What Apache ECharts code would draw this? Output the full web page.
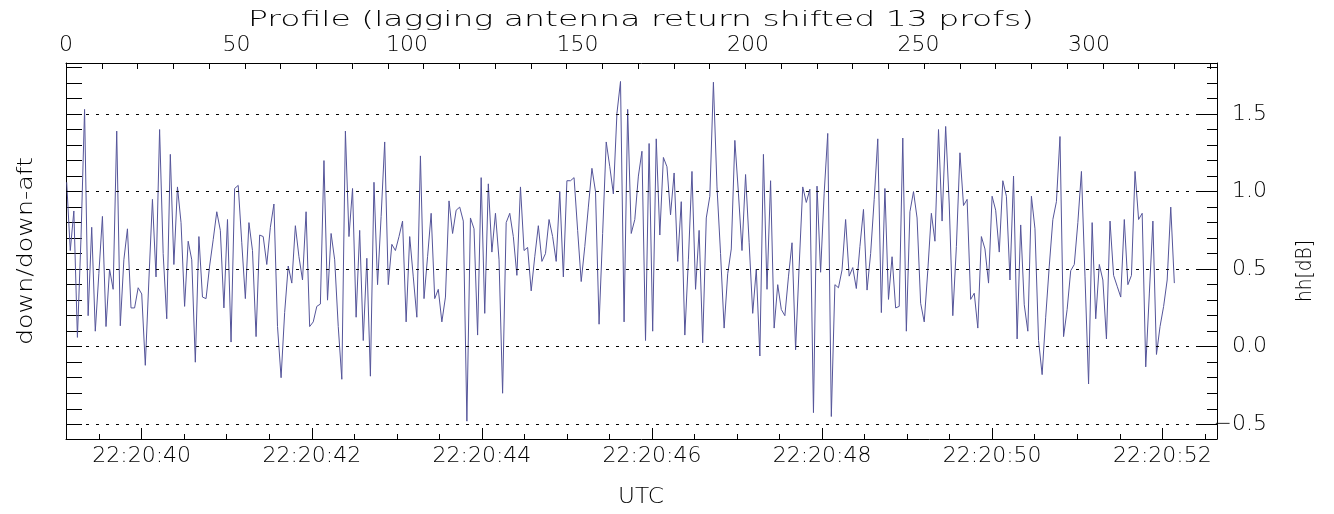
<!DOCTYPE html>
<html><head><meta charset="utf-8">
<script src="https://cdn.jsdelivr.net/npm/echarts@6/dist/echarts.min.js"></script>
<style>html,body{margin:0;padding:0;background:#fff}#c{width:1334px;height:514px}</style>
</head><body><div id="c"></div>
<script>
// hh [dB] values, one per sample (left to right)
const hhValues = [
 1.06,0.62,0.875,0.06,0.70,1.53,0.20,0.77,0.10,0.47,0.84,0.13,0.50,0.37,1.39,0.135,0.56,0.76,0.25,0.25,
 0.38,0.34,-0.12,0.43,0.95,0.45,1.40,0.60,0.18,1.24,0.53,1.03,0.80,0.26,0.68,0.56,-0.10,0.71,0.32,0.31,
 0.52,0.69,0.87,0.75,0.25,0.82,0.03,1.02,1.04,0.67,0.31,0.80,0.62,0.065,0.72,0.71,0.53,0.77,0.92,0.13,
 -0.20,0.22,0.52,0.41,0.78,0.58,0.43,0.87,0.13,0.16,0.26,0.275,1.20,0.30,0.73,0.56,0.13,-0.21,1.39,0.71,
 1.02,0.19,0.75,0.04,0.57,-0.19,1.06,0.40,0.84,1.32,0.40,0.66,0.62,0.71,0.81,0.16,0.71,0.45,0.19,1.23,
 0.31,0.58,0.86,0.31,0.37,0.16,0.32,0.94,0.73,0.88,0.90,0.81,-0.48,0.83,0.76,0.075,1.09,0.215,1.05,0.61,
 0.86,0.56,-0.30,0.80,0.86,0.71,0.46,1.03,0.62,0.64,0.36,0.58,0.78,0.55,0.60,0.82,0.71,0.55,1.00,0.45,
 1.07,1.07,1.09,0.75,0.42,0.645,0.90,1.15,1.00,0.145,0.73,1.32,1.16,0.985,1.505,1.71,0.16,1.53,0.73,0.82,
 1.10,1.26,0.04,1.31,0.10,1.34,0.72,1.22,1.16,0.85,1.12,0.55,0.935,0.075,0.56,1.13,0.37,0.75,0.025,0.83,
 0.97,1.705,1.03,0.60,0.12,0.47,0.63,1.33,0.99,0.62,1.11,0.67,0.215,0.50,-0.06,1.24,0.37,1.07,0.12,0.40,
 0.24,0.20,0.45,0.67,-0.02,0.52,1.03,0.93,1.015,-0.425,1.035,0.48,0.99,1.375,-0.45,0.40,0.38,0.495,0.82,0.455,
 0.51,0.375,0.645,0.885,0.365,0.60,0.95,1.34,0.22,1.02,0.305,0.58,0.25,0.26,1.345,0.10,0.87,1.00,0.83,0.28,
 0.16,0.49,0.86,0.68,1.40,0.81,1.42,0.92,0.20,0.645,1.25,0.91,0.95,0.305,0.345,0.12,0.71,0.63,0.41,0.97,
 0.88,0.61,1.07,0.97,0.43,1.10,0.05,0.785,0.27,0.10,0.97,0.76,0.04,-0.18,0.19,0.52,0.82,0.935,1.355,0.065,
 0.24,0.49,0.53,0.80,1.13,0.45,-0.24,0.80,0.18,0.53,0.43,0.05,0.81,0.46,0.39,0.32,0.82,0.40,0.46,1.13,
 0.82,0.86,-0.13,0.34,0.81,-0.05,0.13,0.26,0.43,0.90,0.41
];
// tick labels / tick positions
const timeLabelSeconds = [40, 42, 44, 46, 48, 50, 52];           // 22:20:SS
const timeMinorTicks = [39.5,40,40.5,41,41.5,42,42.5,43,43.5,44,44.5,45,45.5,46,46.5,47,47.5,48,48.5,49,49.5,50,50.5,51,51.5,52,52.5];
const profileLabels = [0, 50, 100, 150, 200, 250, 300];
const hhLabelValues = [-0.5, 0.0, 0.5, 1.0, 1.5];
const fineTicks = [-0.5,-0.4,-0.3,-0.2,-0.1,0,0.1,0.2,0.3,0.4,0.5,0.6,0.7,0.8,0.9,1.0,1.1,1.2,1.3,1.4,1.5,1.6,1.7,1.8];
const topTickMarks = [0,1,2,3,4,5,6,7,8,9,10,11,12,13,14,15,16,17,18,19,20,21,22,23,24,25,26,27,28,29,30,31,32];

// layout
const G = {left: 66, right: 117, top: 63, bottom: 75};
const PLOT_W = 1334 - G.left - G.right;
const PX_PER_SEC = 85.05, SEC_AT_40 = 141.7;
const T_MIN = 40 - (SEC_AT_40 - G.left) / PX_PER_SEC;
const T_MAX = T_MIN + PLOT_W / PX_PER_SEC;
const PX_PER_PROF = 3.41;
const P_MAX = PLOT_W / PX_PER_PROF;
const TOP_TICK_PX = 35.75;
const SAMPLE_PX = 3.573, FIRST_SAMPLE_PX = 66.7;
const IDX_MIN = -(FIRST_SAMPLE_PX - G.left) / SAMPLE_PX;
const IDX_MAX = IDX_MIN + PLOT_W / SAMPLE_PX;
const Y_MIN = -0.595, Y_MAX = 1.829;

const FONT = '"DejaVu Sans ExtraLight", "DejaVu Sans"';
const FW = 200;
const TXT = '#000';
const FS = 22;

function fitText(text, width, size) {
  const c = document.createElement('canvas').getContext('2d');
  c.font = FW + ' ' + size + 'px ' + FONT;
  return width / c.measureText(text).width;
}

const chart = echarts.init(document.getElementById('c'), null, {renderer: 'canvas'});
const blackLine = {lineStyle: {color: '#000', width: 1}};
const lbl = {fontSize: FS, fontFamily: FONT, fontWeight: FW, color: TXT};

function titleText(text, x, y, width, rot) {
  return {
    type: 'text', x: x, y: y, rotation: rot || 0,
    scaleX: fitText(text, width, FS), scaleY: 1,
    style: {text: text, font: FW + ' ' + FS + 'px ' + FONT, fill: TXT, align: 'center', verticalAlign: 'middle'}
  };
}

chart.setOption({
  animation: false,
  backgroundColor: '#fff',
  grid: {left: G.left, right: G.right, top: G.top, bottom: G.bottom, containLabel: false, outerBoundsMode: 'none'},
  xAxis: [
    {type: 'value', position: 'bottom', min: T_MIN, max: T_MAX,
     axisLine: {show: true, onZero: false, ...blackLine},
     axisTick: {show: true, inside: true, length: 11, customValues: timeLabelSeconds, ...blackLine},
     axisLabel: {show: true, customValues: timeLabelSeconds, ...lbl, margin: 6,
       formatter: v => '22:20:' + String(Math.round(v)).padStart(2, '0')},
     splitLine: {show: false}},
    {type: 'value', position: 'bottom', min: T_MIN, max: T_MAX,
     axisLine: {show: false, onZero: false},
     axisTick: {show: true, inside: true, length: 5, customValues: timeMinorTicks, ...blackLine},
     axisLabel: {show: false}, splitLine: {show: false}},
    {type: 'value', position: 'top', min: 0, max: P_MAX,
     axisLine: {show: true, onZero: false, ...blackLine},
     axisTick: {show: false},
     axisLabel: {show: true, customValues: profileLabels, ...lbl, margin: 7},
     splitLine: {show: false}},
    {type: 'value', position: 'top', min: 0, max: PLOT_W / TOP_TICK_PX,
     axisLine: {show: false, onZero: false},
     axisTick: {show: true, inside: true, length: 6, customValues: topTickMarks, ...blackLine},
     axisLabel: {show: false}, splitLine: {show: false}},
    {type: 'value', show: false, min: IDX_MIN, max: IDX_MAX, axisLine: {onZero: false}}
  ],
  yAxis: [
    {type: 'value', position: 'right', min: Y_MIN, max: Y_MAX,
     axisLine: {show: true, onZero: false, ...blackLine},
     axisTick: {show: true, inside: true, length: 20, customValues: hhLabelValues, ...blackLine},
     axisLabel: {show: true, customValues: hhLabelValues, ...lbl, margin: 50, align: 'right',
       formatter: v => (v < 0 ? '\u2212' : '') + Math.abs(v).toFixed(1)},
     splitLine: {show: false}},
    {type: 'value', position: 'right', min: Y_MIN, max: Y_MAX,
     axisLine: {show: false, onZero: false},
     axisTick: {show: true, inside: true, length: 10, customValues: fineTicks, ...blackLine},
     axisLabel: {show: false}, splitLine: {show: false}},
    {type: 'value', position: 'left', min: Y_MIN, max: Y_MAX,
     axisLine: {show: true, onZero: false, ...blackLine},
     axisTick: {show: true, inside: true, length: 16, customValues: fineTicks, ...blackLine},
     axisLabel: {show: false}, splitLine: {show: false}}
  ],
  series: [{
    type: 'line', xAxisIndex: 4, yAxisIndex: 0,
    data: hhValues.map((v, i) => [i, v]),
    showSymbol: false, symbol: 'none',
    lineStyle: {color: '#55559a', width: 1},
    silent: true,
    markLine: {
      silent: true, symbol: 'none', label: {show: false},
      lineStyle: {color: '#000', width: 1, type: [3, 7]},
      data: hhLabelValues.map(v => ({yAxis: v}))
    }
  }],
  graphic: [
    titleText('Profile (lagging antenna return shifted 13 profs)', 641, 20, 786),
    titleText('UTC', 641, 497, 46),
    titleText('down/down-aft', 26, 251, 188, Math.PI / 2),
    titleText('hh[dB]', 1305, 271, 62, Math.PI / 2)
  ]
});
</script>
</body></html>
